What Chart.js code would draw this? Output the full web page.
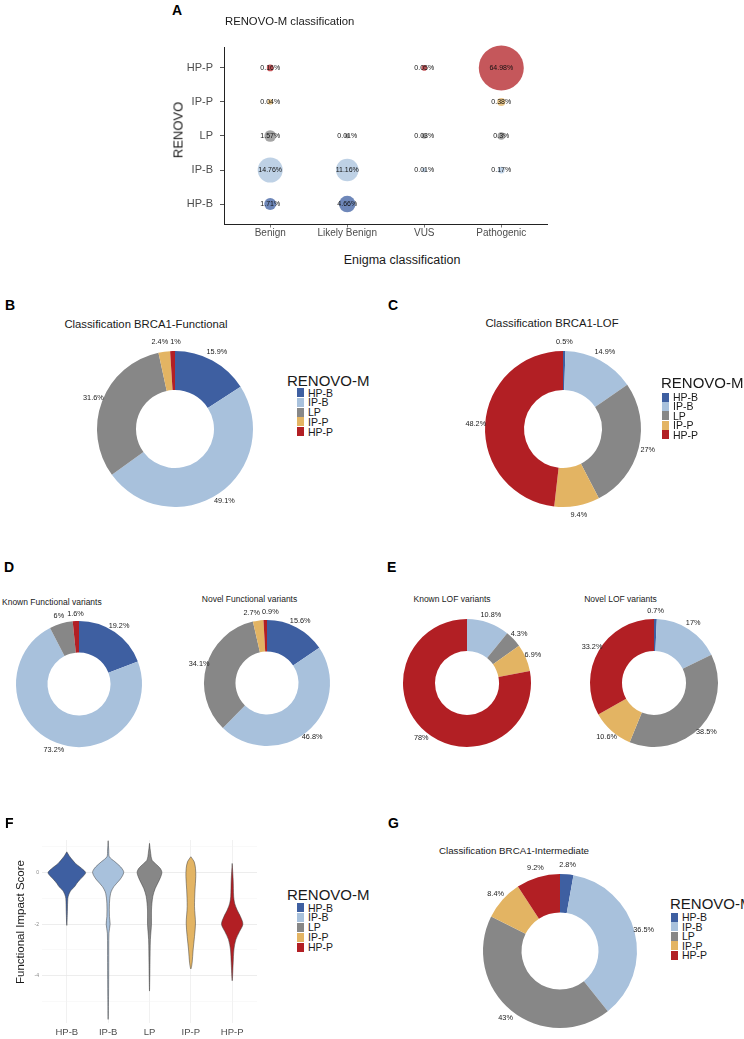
<!DOCTYPE html>
<html>
<head>
<meta charset="utf-8">
<script src="https://cdn.jsdelivr.net/npm/chart.js@4.4.1/dist/chart.umd.min.js"></script>
<style>
  html, body { margin: 0; padding: 0; background: #fff; }
  body { position: relative; width: 744px; height: 1039px; overflow: hidden;
         font-family: "Liberation Sans", Arial, sans-serif; }
  .t { position: absolute; white-space: nowrap; line-height: 1; }
</style>
</head>
<body>
<script>
// ---- data ----
const renovoCats = ['HP-B', 'IP-B', 'LP', 'IP-P', 'HP-P'];
const enigmaCats = ['Benign', 'Likely Benign', 'VUS', 'Pathogenic'];

// panel A: % of variants, one array per RENOVO row, indexed by enigmaCats
const bubbleHPB = [1.71, 4.66, null, null];
const bubbleIPB = [14.76, 11.16, 0.01, 0.17];
const bubbleLP  = [1.57, 0.01, 0.03, 0.3];
const bubbleIPP = [0.04, null, null, 0.38];
const bubbleHPP = [0.16, null, 0.05, 64.98];

// donuts, indexed by renovoCats
const functionalPct      = [15.9, 49.1, 31.6, 2.4, 1];
const lofPct             = [0.5, 14.9, 27, 9.4, 48.2];
const knownFunctionalPct = [19.2, 73.2, 6, 0, 1.6];
const novelFunctionalPct = [15.6, 46.8, 34.1, 2.7, 0.9];
const knownLofPct        = [0, 10.8, 4.3, 6.9, 78];
const novelLofPct        = [0.7, 17, 38.5, 10.6, 33.2];
const intermediatePct    = [2.8, 36.5, 43, 8.4, 9.2];

// panel F: violin outlines (score, relative density)
const scoreHPB   = [0.81, 0.65, 0.49, 0.35, 0.23, 0.1, 0, -0.12, -0.28, -0.42, -0.54, -0.65, -0.74, -0.85, -1.0, -1.5, -2.05];
const densityHPB = [0, 2.5, 5.8, 9, 13, 17, 19, 17, 13, 10, 8, 5, 3.3, 2, 1, 0.6, 0];
const scoreIPB   = [1.24, 0.88, 0.62, 0.43, 0.23, 0.08, 0, -0.12, -0.28, -0.54, -0.8, -1.19, -1.7, -2.0, -2.35, -3.5, -4.8, -5.7];
const densityIPB = [0, 0.6, 1.2, 6.7, 12.5, 15.3, 15.7, 14.5, 11.7, 5.8, 2.5, 1.3, 1.3, 2, 0.8, 0.6, 0.4, 0];
const scoreLP    = [1.14, 0.75, 0.49, 0.36, 0.17, 0, -0.28, -0.61, -0.93, -1.45, -2.0, -2.6, -3.5, -4.6];
const densityLP  = [0, 1.2, 2.5, 5.8, 10.8, 12.5, 10, 5.8, 3.3, 2, 2, 0.9, 0.5, 0];
const scoreIPP   = [0.62, 0.43, 0.17, -0.15, -0.67, -1.32, -1.96, -2.48, -3.0, -3.5, -3.74];
const densityIPP = [0, 3.3, 4.7, 5, 4.2, 3.7, 4.7, 3.7, 2.3, 1.3, 0];
const scoreHPP   = [0.36, -0.28, -0.93, -1.19, -1.45, -1.7, -2.0, -2.28, -2.6, -3.0, -3.5, -4.2];
const densityHPP = [0, 1, 1.5, 2.5, 5, 8.3, 10.8, 7.5, 3.7, 1.7, 1, 0];
const scoreTicks = [-5, -4, -3, -2, -1, 0, 1];

// ---- style ----
const palette = ['#3e5fa1', '#a8c1dc', '#878787', '#e3b463', '#b21f24'];
const paletteA = ['rgba(62,95,161,0.75)', 'rgba(168,193,220,0.75)', 'rgba(135,135,135,0.75)',
                  'rgba(227,180,99,0.75)', 'rgba(178,31,36,0.75)'];
const FONT = '"Liberation Sans", Arial, sans-serif';

Chart.defaults.font.family = FONT;
Chart.defaults.color = '#4d4d4d';
Chart.defaults.animation = false;
Chart.defaults.events = [];
Chart.defaults.plugins.legend.display = false;
Chart.defaults.plugins.tooltip.enabled = false;

function label(text, x, y, style, anchor, rotate) {
  const d = document.createElement('div');
  d.className = 't';
  d.textContent = text;
  d.style.cssText += ';left:' + x + 'px;top:' + y + 'px;' + style;
  let tr = anchor === 'l' ? 'translate(0,-50%)' : 'translate(-50%,-50%)';
  if (rotate) tr += ' rotate(-90deg)';
  d.style.transform = tr;
  document.body.appendChild(d);
}

function makeCanvas(left, top, w, h) {
  const c = document.createElement('canvas');
  c.width = w; c.height = h;
  c.style.cssText = 'position:absolute;left:' + left + 'px;top:' + top + 'px;width:' + w + 'px;height:' + h + 'px';
  document.body.appendChild(c);
  return c;
}

function legend(x, ty, sx, fy, step) {
  label('RENOVO-M', x, ty, 'font-size:15px;color:#1a1a1a', 'l');
  renovoCats.forEach((cat, i) => {
    const y = fy + i * step;
    const sw = document.createElement('div');
    sw.style.cssText = 'position:absolute;left:' + sx + 'px;top:' + (y - 4.5) + 'px;width:7px;height:9px;background:' + palette[i];
    document.body.appendChild(sw);
    label(cat, sx + 11, y, 'font-size:10.5px;color:#1a1a1a', 'l');
  });
}

// percentage labels just outside each slice, nudged apart when they collide
const pctLabels = {
  id: 'pctLabels',
  afterDatasetsDraw(chart) {
    const ctx = chart.ctx;
    const meta = chart.getDatasetMeta(0);
    const vals = chart.data.datasets[0].data;
    ctx.save();
    ctx.font = '7.3px ' + FONT;
    ctx.fillStyle = '#222';
    ctx.textAlign = 'center';
    ctx.textBaseline = 'middle';
    const items = [];
    meta.data.forEach((arc, i) => {
      if (!vals[i]) return;
      const a = (arc.startAngle + arc.endAngle) / 2;
      const d = arc.outerRadius * 1.12;
      const text = vals[i] + '%';
      items.push({ text, x: arc.x + Math.cos(a) * d, y: arc.y + Math.sin(a) * d, w: ctx.measureText(text).width });
    });
    for (let it = 0; it < 10; it++) {
      for (let p = 0; p < items.length; p++) {
        for (let q = p + 1; q < items.length; q++) {
          const A = items[p], B = items[q];
          if (Math.abs(A.y - B.y) > 8) continue;
          const need = (A.w + B.w) / 2 + 2;
          const dx = B.x - A.x;
          if (Math.abs(dx) < need) {
            const s = (need - Math.abs(dx)) / 2 * (dx >= 0 ? 1 : -1);
            A.x -= s; B.x += s;
          }
        }
      }
    }
    items.forEach(o => ctx.fillText(o.text, o.x, o.y));
    ctx.restore();
  }
};

function donut(values, cx, cy, r) {
  const pad = 26;
  const size = 2 * (r + pad);
  const c = makeCanvas(cx - r - pad, cy - r - pad, size, size);
  return new Chart(c, {
    type: 'doughnut',
    data: {
      labels: renovoCats,
      datasets: [{ data: values, backgroundColor: palette, borderWidth: 0,
                   hoverBorderWidth: 0, hoverOffset: 0 }]
    },
    options: { responsive: false, devicePixelRatio: 1, cutout: '50%', layout: { padding: pad } },
    plugins: [pctLabels]
  });
}

// ---- panel A ----
const bubbleRows = [bubbleHPB, bubbleIPB, bubbleLP, bubbleIPP, bubbleHPP];
const bubbleMax = Math.max(...bubbleRows.flat().filter(v => v != null));
const bubbleSize = v => 2 + 20.5 * Math.pow(v / bubbleMax, 0.45);

const bubbleLabels = {
  id: 'bubbleLabels',
  afterDatasetsDraw(chart) {
    const ctx = chart.ctx;
    ctx.save();
    ctx.font = '7px ' + FONT;
    ctx.fillStyle = '#111';
    ctx.textAlign = 'center';
    ctx.textBaseline = 'middle';
    chart.data.datasets.forEach((ds, di) => {
      chart.getDatasetMeta(di).data.forEach((el, k) => {
        ctx.fillText(ds.data[k].v + '%', el.x, el.y);
      });
    });
    ctx.restore();
  }
};

new Chart(makeCanvas(150, 25, 420, 222), {
  type: 'bubble',
  data: {
    datasets: bubbleRows.map((row, ri) => ({
      label: renovoCats[ri],
      data: row.map((v, j) => v == null ? null : { x: j, y: ri, r: bubbleSize(v), v: v }).filter(Boolean),
      backgroundColor: paletteA[ri],
      borderWidth: 0,
      clip: false
    }))
  },
  options: {
    responsive: false, devicePixelRatio: 1,
    layout: { padding: { top: 8, right: 8, left: 0, bottom: 0 } },
    scales: {
      x: {
        type: 'linear', min: -0.6, max: 3.6,
        afterBuildTicks: s => { s.ticks = enigmaCats.map((_, i) => ({ value: i })); },
        afterFit: s => { s.height = 21; },
        ticks: { callback: v => enigmaCats[v], font: { size: 10 }, color: '#4d4d4d', padding: 0, maxRotation: 0 },
        grid: { drawOnChartArea: false, tickLength: 3, tickColor: '#777' },
        border: { color: '#222', width: 1 }
      },
      y: {
        type: 'linear', min: -0.6, max: 4.6,
        afterBuildTicks: s => { s.ticks = renovoCats.map((_, i) => ({ value: i })); },
        afterFit: s => { s.width = 74; },
        ticks: { callback: v => renovoCats[v], font: { size: 11 }, color: '#4d4d4d', padding: 7 },
        grid: { drawOnChartArea: false, tickLength: 4, tickColor: '#555' },
        border: { color: '#222', width: 1 }
      }
    }
  },
  plugins: [bubbleLabels]
});

label('A', 172, 10, 'font-size:14px;font-weight:bold;color:#000', 'l');
label('RENOVO-M classification', 225, 22, 'font-size:11.3px;color:#1a1a1a', 'l');
label('RENOVO', 178, 130, 'font-size:13px;color:#1a1a1a', 'c', true);
label('Enigma classification', 402, 260, 'font-size:12.5px;color:#1a1a1a', 'c');

// ---- panels B, C ----
label('B', 5, 305, 'font-size:14px;font-weight:bold;color:#000', 'l');
label('Classification BRCA1-Functional', 146, 325, 'font-size:11.3px;color:#1a1a1a', 'c');
donut(functionalPct, 175, 429, 78);
legend(287, 380, 297, 392.5, 9.8);

label('C', 388, 305, 'font-size:14px;font-weight:bold;color:#000', 'l');
label('Classification BRCA1-LOF', 552, 324, 'font-size:11.3px;color:#1a1a1a', 'c');
donut(lofPct, 563, 429, 78);
legend(661, 381.5, 662, 397, 9.4);

// ---- panels D, E ----
label('D', 4, 567, 'font-size:14px;font-weight:bold;color:#000', 'l');
label('Known Functional variants', 2, 602, 'font-size:8.5px;color:#1a1a1a', 'l');
label('Novel Functional variants', 249.5, 599, 'font-size:8.5px;color:#1a1a1a', 'c');
donut(knownFunctionalPct, 79, 684, 63);
donut(novelFunctionalPct, 267, 683, 63);

label('E', 387, 567, 'font-size:14px;font-weight:bold;color:#000', 'l');
label('Known LOF variants', 452, 599, 'font-size:8.5px;color:#1a1a1a', 'c');
label('Novel LOF variants', 620.5, 599, 'font-size:8.5px;color:#1a1a1a', 'c');
donut(knownLofPct, 467, 683, 64);
donut(novelLofPct, 654, 683, 64);

// ---- panel F ----
const violins = [[scoreHPB, densityHPB], [scoreIPB, densityIPB], [scoreLP, densityLP],
                 [scoreIPP, densityIPP], [scoreHPP, densityHPP]];
const densityToX = 0.455 / 19;

new Chart(makeCanvas(0, 830, 270, 209), {
  type: 'scatter',
  data: {
    datasets: violins.map(([score, dens], i) => {
      const right = score.map((y, k) => ({ x: i + dens[k] * densityToX, y: y }));
      const left = [];
      for (let k = score.length - 2; k >= 0; k--) left.push({ x: i - dens[k] * densityToX, y: score[k] });
      return {
        label: renovoCats[i],
        data: right.concat(left),
        showLine: true,
        fill: 'shape',
        backgroundColor: palette[i],
        borderColor: '#3a3a3a',
        borderWidth: 0.5,
        pointRadius: 0,
        tension: 0.3
      };
    })
  },
  options: {
    responsive: false, devicePixelRatio: 1,
    layout: { padding: { top: 10, right: 13, left: 0, bottom: 0 } },
    scales: {
      x: {
        type: 'linear', min: -0.6, max: 4.6,
        afterBuildTicks: s => { s.ticks = renovoCats.map((_, i) => ({ value: i })); },
        afterFit: s => { s.height = 16; },
        ticks: { callback: v => renovoCats[v], font: { size: 9.5 }, color: '#4d4d4d', padding: 4, maxRotation: 0 },
        grid: { color: '#ebebeb', lineWidth: 0.7, drawTicks: false },
        border: { display: false }
      },
      y: {
        type: 'linear', min: -5.84, max: 1.27,
        afterBuildTicks: s => { s.ticks = scoreTicks.map(v => ({ value: v })); },
        afterFit: s => { s.width = 42; },
        ticks: { callback: v => (v % 2 === 0 ? String(v) : ''), font: { size: 5 }, color: '#888', padding: 3 },
        grid: {
          color: c => (c.tick && c.tick.value % 2 === 0 ? '#e8e8e8' : '#f3f3f3'),
          lineWidth: c => (c.tick && c.tick.value % 2 === 0 ? 0.8 : 0.5),
          drawTicks: false
        },
        border: { display: false }
      }
    }
  }
});

label('F', 5, 823, 'font-size:14px;font-weight:bold;color:#000', 'l');
label('Functional Impact Score', 21, 922, 'font-size:11.5px;color:#1a1a1a', 'c', true);
legend(287, 894, 297, 907.5, 9.9);

// ---- panel G ----
label('G', 388, 823, 'font-size:14px;font-weight:bold;color:#000', 'l');
label('Classification BRCA1-Intermediate', 514, 851, 'font-size:9.75px;color:#1a1a1a', 'c');
donut(intermediatePct, 560, 951, 77);
legend(670, 902.5, 671, 917, 9.5);
</script>
</body>
</html>
